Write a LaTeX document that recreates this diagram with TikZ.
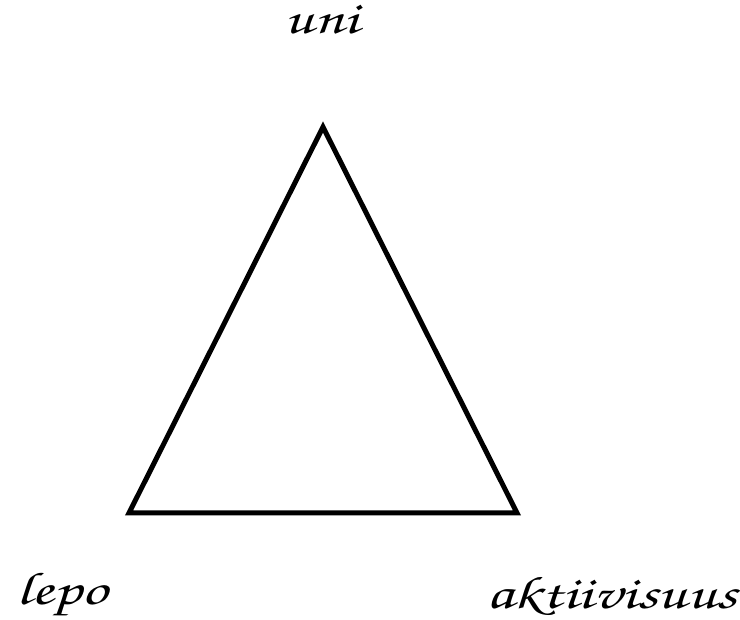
\documentclass[tikz,border=0pt]{standalone}
\usepackage{tikz}
\usetikzlibrary{positioning}
\newcommand{\handfont}{\fontencoding{T1}\fontfamily{pzc}\fontseries{m}\fontshape{it}\fontsize{46}{55}\selectfont}
\tikzset{handlabel/.style={inner sep=0pt, xscale=1.4, transform shape}}

\begin{document}
\begin{tikzpicture}[x=1pt,y=-1pt]
  \useasboundingbox (0,0) rectangle (740,620);
  \coordinate (top) at (323,127);
  \coordinate (left) at (129,513);
  \coordinate (right) at (517,513);

  \draw[line width=5pt, line join=miter] (top) -- (right) -- (left) -- cycle;

  % Corner labels
  \node[handlabel] (uni) at (322,20) {\handfont uni};
  \node[handlabel] (lepo) at (62,595) {\handfont lepo};
  \node[handlabel] (akt) at (612,596) {\handfont aktiivisuus};
\end{tikzpicture}
\end{document}
